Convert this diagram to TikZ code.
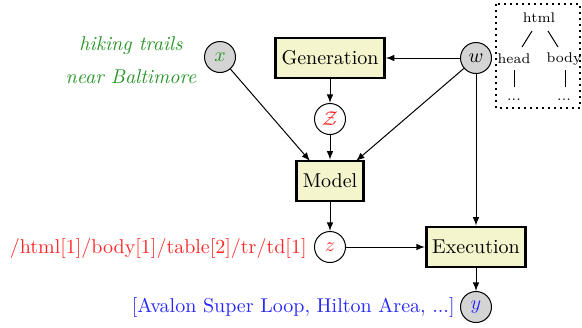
\documentclass[tikz,border=0pt]{standalone}
\usetikzlibrary{arrows}
\definecolor{boxfill}{RGB}{245,245,205}
\definecolor{varfill}{RGB}{212,212,212}
\definecolor{mygreen}{RGB}{40,150,40}
\definecolor{myred}{RGB}{255,40,40}
\definecolor{myblue}{RGB}{40,40,255}
\begin{document}
\begin{tikzpicture}[x=0.5pt,y=-0.5pt,>=latex,
  stagebox/.style={draw,line width=1.3pt,fill=boxfill,inner xsep=3pt,inner ysep=0pt,minimum height=20pt},
  obsvar/.style={circle,draw,line width=0.5pt,fill=varfill,minimum size=15.5pt,inner sep=0pt},
  latvar/.style={circle,draw,line width=0.5pt,fill=white,minimum size=15.5pt,inner sep=0pt},
  conn/.style={->,line width=0.5pt},
  treeline/.style={line width=0.5pt}]
\useasboundingbox (0,0) rectangle (582,327);
% nodes
\node[obsvar] (x) at (220,57) {$\color{mygreen}x$};
\node[stagebox] (gen) at (330,58) {Generation};
\node[obsvar] (w) at (476,58) {$w$};
\node[latvar] (Z) at (330,119) {$\color{myred}\mathcal{Z}$};
\node[stagebox] (model) at (330,181) {Model};
\node[latvar] (z) at (330,247) {$\color{myred}z$};
\node[stagebox] (exec) at (476,247) {Execution};
\node[obsvar] (y) at (476,307) {$\color{myblue}y$};
\coordinate (mA) at (310,161);
\coordinate (mB) at (356,161);
% labels
\node[align=center,text=mygreen,font=\itshape,inner sep=0pt] (xl) at (131,60) {hiking trails\\[4.5pt]near Baltimore};
\node[anchor=east,text=myred,inner sep=0pt] (zl) at (307,248) {/html[1]/body[1]/table[2]/tr/td[1]};
\node[anchor=east,text=myblue,inner sep=0pt] (yl) at (455,307) {[Avalon Super Loop, Hilton Area, ...]};
% connectors
\draw[conn] (w) -- (gen);
\draw[conn] (gen) -- (Z);
\draw[conn] (Z) -- (model);
\draw[conn] (x) -- (mA);
\draw[conn] (w) -- (mB);
\draw[conn] (model) -- (z);
\draw[conn] (z) -- (exec);
\draw[conn] (w) -- (exec);
\draw[conn] (exec) -- (y);
% html tree
\draw[dotted,line width=1pt] (496,4) rectangle (580,108);
\begin{scope}[font=\scriptsize,inner sep=1pt]
\node (html) at (539,18) {html};
\node (head) at (514,59) {head};
\node (body) at (564,59) {body};
\node (d1) at (514,100) {...};
\node (d2) at (564,100) {...};
\end{scope}
\draw[treeline] (532,31) -- (522,47);
\draw[treeline] (548,31) -- (558,47);
\draw[treeline] (514,70) -- (514,87);
\draw[treeline] (565,70) -- (565,87);
\end{tikzpicture}
\end{document}
